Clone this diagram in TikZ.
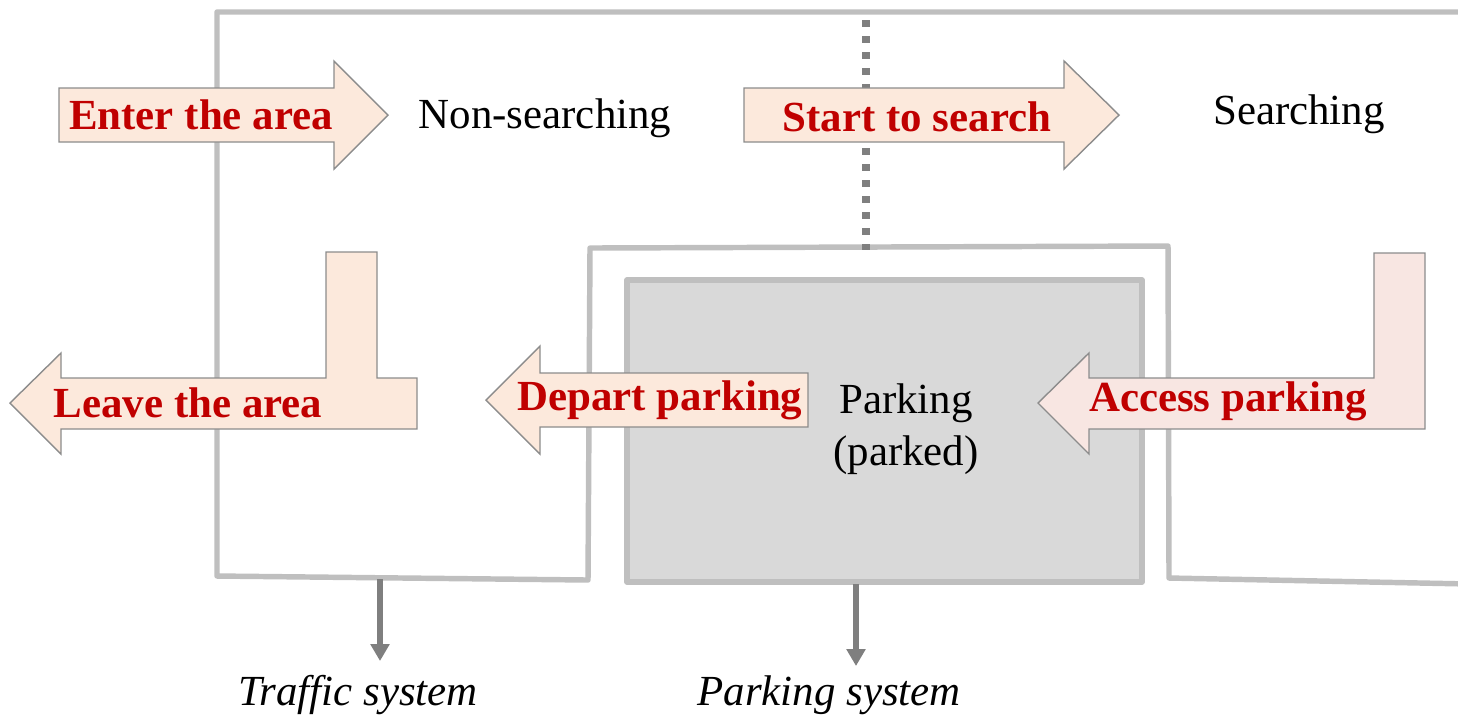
\documentclass[tikz,border=0pt]{standalone}
\usepackage{fontspec}
\setmainfont{Liberation Serif}
\usetikzlibrary{arrows.meta}
\definecolor{frame}{HTML}{BFBFBF}
\definecolor{boxfill}{HTML}{D9D9D9}
\definecolor{peach}{HTML}{FCE9DC}
\definecolor{blush}{HTML}{F8E6E2}
\definecolor{edge}{HTML}{8C8C8C}
\definecolor{darkred}{HTML}{C00000}
\definecolor{pointer}{HTML}{7F7F7F}
\tikzset{
  region/.style={draw=frame, line width=1.55pt, line join=round},
  parkbox/.style={draw=frame, fill=boxfill, line width=1.55pt, line join=round},
  blockarrow/.style={draw=edge, line width=0.4pt, fill=peach},
  actlabel/.style={font=\fontsize{12.2}{14}\selectfont\bfseries, text=darkred, anchor=base, inner sep=0pt},
  statelabel/.style={font=\fontsize{12.2}{14}\selectfont, anchor=base, inner sep=0pt},
  syslabel/.style={font=\fontsize{12.2}{14}\selectfont\itshape, anchor=base, inner sep=0pt},
  sysarrow/.style={draw=pointer, line width=1.9pt, -{Triangle[width=5.2pt,length=4.8pt]}},
  divider/.style={draw=pointer, line width=2.1pt, dash pattern=on 2.1pt off 2.45pt}
}
\begin{document}
\begin{tikzpicture}[x=0.01cm, y=-0.01cm]
\useasboundingbox (0,0) rectangle (1458,717);

% traffic region (non-searching + searching)
\draw[region] (1470,584) -- (1169,578) -- (1168,246) -- (590,248) -- (588,580)
  -- (217,576) -- (217,12) -- (1470,12);

% parking region
\draw[parkbox] (627,280) rectangle (1142,582);

% boundary between non-searching and searching
\draw[divider] (866,20) -- (866,250);

% block arrows for the transitions
\draw[blockarrow] (59,88) -- (334,88) -- (334,61) -- (388,115) -- (334,169)
  -- (334,142) -- (59,142) -- cycle;
\draw[blockarrow] (744,88) -- (1064,88) -- (1064,61) -- (1119,115) -- (1064,169)
  -- (1064,142) -- (744,142) -- cycle;
\draw[blockarrow] (10,403) -- (61,353) -- (61,378) -- (326,378) -- (326,252)
  -- (377,252) -- (377,378) -- (417,378) -- (417,429) -- (61,429) -- (61,454) -- cycle;
\draw[blockarrow] (486,400) -- (540,346) -- (540,373) -- (808,373) -- (808,427)
  -- (540,427) -- (540,454) -- cycle;
\draw[blockarrow, fill=blush] (1038,403) -- (1089,353) -- (1089,378) -- (1374,378)
  -- (1374,253) -- (1425,253) -- (1425,429) -- (1089,429) -- (1089,454) -- cycle;

% transition labels
\node[actlabel] (enter)  at (201,129) {Enter the area};
\node[actlabel] (start)  at (917,131) {Start to search};
\node[actlabel] (leave)  at (188,417) {Leave the area};
\node[actlabel] (depart) at (660,410) {Depart parking};
\node[actlabel] (access) at (1228,411) {Access parking};

% state labels
\node[statelabel] (nonsearch) at (545,128) {Non-searching};
\node[statelabel] (search)    at (1299,124) {Searching};
\node[statelabel] (parked)    at (906,413) {Parking};
\node[statelabel] (parked2)   at (906,465) {(parked)};

% subsystem labels
\node[syslabel] (traffic) at (358,705) {Traffic system};
\node[syslabel] (parksys) at (829,705) {Parking system};

\coordinate (trafficout) at (380,579);
\coordinate (parkout)    at (856,584);
\draw[sysarrow] (trafficout) -- (380,661);
\draw[sysarrow] (parkout) -- (856,666);
\end{tikzpicture}
\end{document}
